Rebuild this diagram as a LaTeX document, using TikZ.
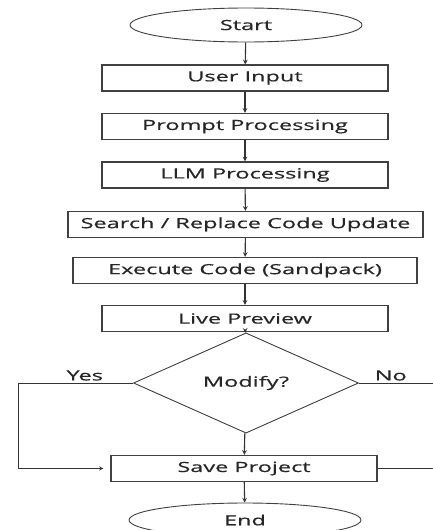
\documentclass[tikz,border=0pt]{standalone}
\usepackage{fontspec}
\setmainfont{Open Sans}[FakeStretch=1.68, FakeBold=0.6]
\usetikzlibrary{arrows,shapes.geometric}

\begin{document}
\begin{tikzpicture}
	[x=1pt, y=1pt, inner sep=0pt, font=\fontsize{14}{17}\selectfont, text=black!85,
	terminal/.style	= {ellipse,draw=black!75,line width=0.9pt,minimum width=232pt,minimum height=34pt},
	process/.style	= {rectangle,draw=black!75,line width=1.2pt,minimum height=26pt},
	decision/.style	= {diamond,draw=black!75,line width=0.9pt,minimum width=225pt,minimum height=56pt},
	paths/.style	= {->, >=stealth, draw=black!80, line width=1.1pt},
	lines/.style	= {-, draw=black!80, line width=0.9pt}]

	\useasboundingbox (0,0) rectangle (433,-530);

	\node at (246, -25)		[terminal]	(start)		{Start};
	\node at (245, -78)		[process, minimum width=286pt]	(input)		{User Input};
	\node at (245, -126.5)	[process, minimum width=286pt]	(prompt)	{Prompt Processing};
	\node at (245, -175)	[process, minimum width=286pt]	(llm)		{LLM Processing};
	\node at (245.5, -224.5)	[process, minimum width=355pt]	(search)	{Search / Replace Code Update};
	\node at (245, -270.5)	[process, minimum width=344pt]	(execute)	{Execute Code (Sandpack)};
	\node at (245, -318.5)	[process, minimum width=286pt]	(preview)	{Live Preview};
	\node at (246, -383)	[decision]	(modify)	{Modify?};
	\node at (244, -468.5)	[process, minimum width=266pt]	(save)		{Save Project};
	\node at (245, -520)	[terminal]	(end)		{End};

	\coordinate (noout) at (433, -383);
	\coordinate (saveout) at (433, -468.5);

	\draw [paths] (start) -- (input);
	\draw [paths] (input) -- (prompt);
	\draw [paths] (prompt) -- (llm);
	\draw [paths] (llm) -- (search);
	\draw [paths] (search) -- (execute);
	\draw [paths] (execute) -- (preview);
	\draw [paths] (preview) -- (modify);
	\draw [paths] (modify) -- (save);
	\draw [paths] (save) -- (end);

	\draw [paths, line width=0.9pt, shorten >=7pt] (modify.west) -- node[above=2pt, pos=0.42] {Yes} ++(-115,0) |- (save.west);
	\draw [lines] (modify.east) -- node[above=2pt, pos=0.43] {No} (noout);
	\draw [lines] (save.east) -- (saveout);

\end{tikzpicture}
\end{document}
